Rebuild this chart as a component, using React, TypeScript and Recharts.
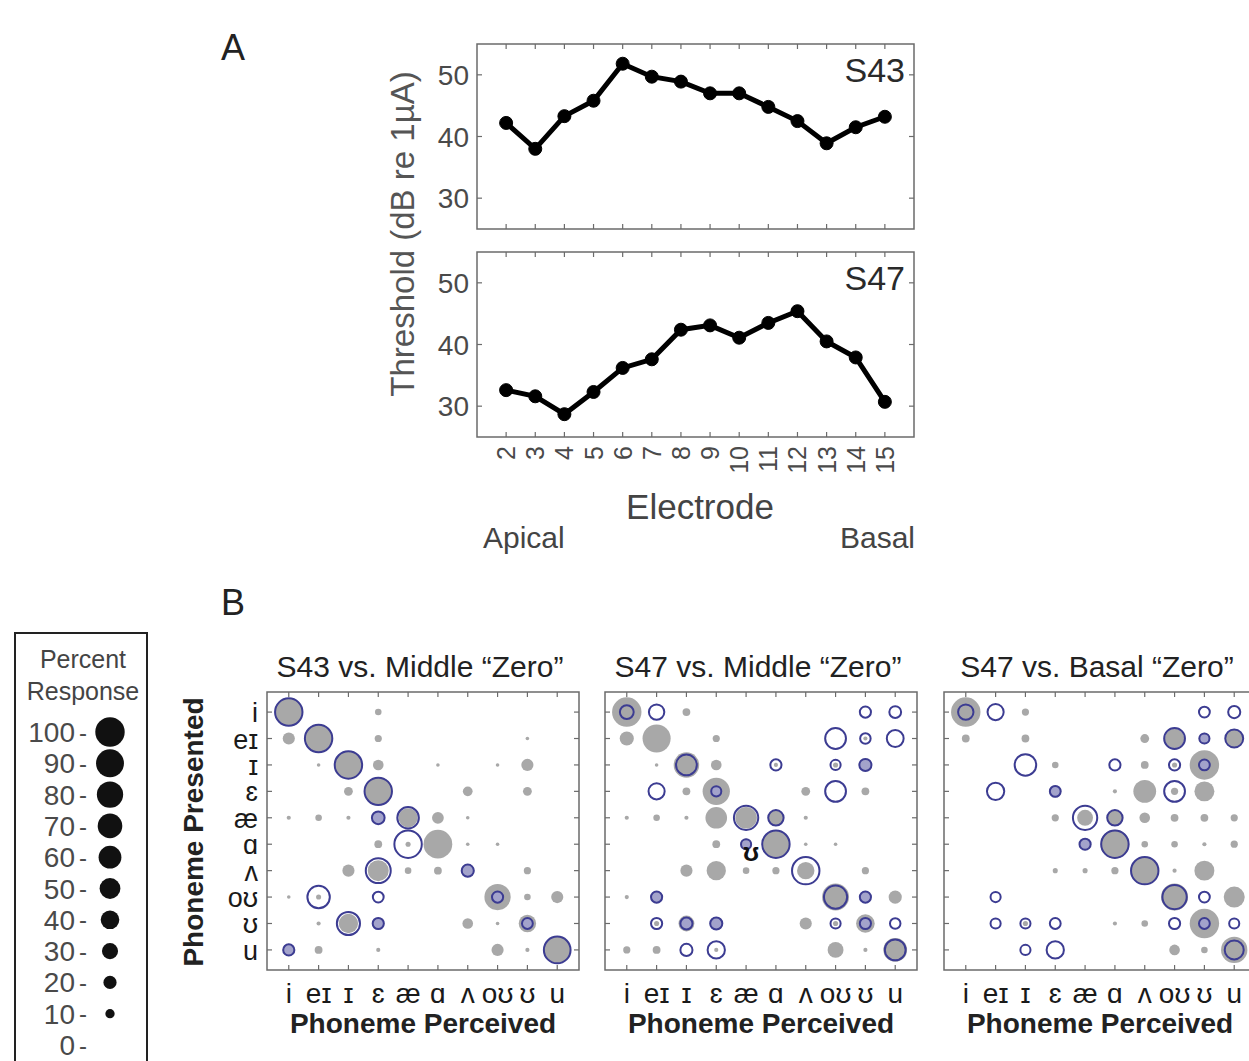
import React from "react";
import {
  LineChart,
  Line,
  ScatterChart,
  Scatter,
  XAxis,
  YAxis,
  ZAxis,
  ReferenceArea,
} from "recharts";

const FONT = '"Liberation Sans", Arial, "DejaVu Sans", sans-serif';
const AXIS_TEXT = "#4a4a4a";
const BOX = "#6b6b6b";
const GRAY_FILL = "#a8a8a8";
const RING = "#3c3c92";
const RING_TINT = "#a3a3cb";

// Panel A: thresholds per electrode
const electrodes = [2, 3, 4, 5, 6, 7, 8, 9, 10, 11, 12, 13, 14, 15];
const s43Threshold = [42.2, 38.0, 43.3, 45.8, 51.8, 49.7, 48.9, 47.0, 47.0, 44.8, 42.5, 38.9, 41.5, 43.2];
const s47Threshold = [32.6, 31.6, 28.7, 32.3, 36.2, 37.6, 42.4, 43.1, 41.1, 43.5, 45.4, 40.5, 37.9, 30.7];
const thresholdTicks = [30, 40, 50];

// Panel B: percent response, rows = phoneme presented, columns = phoneme perceived
const phonemes = ["i", "eɪ", "ɪ", "ɛ", "æ", "ɑ", "ʌ", "oʊ", "ʊ", "u"];
const matrixTicks = [1, 2, 3, 4, 5, 6, 7, 8, 9, 10];

// gray discs = full map, blue rings = "zero" map
const s43MiddleGray = [
  [91, 0, 0, 5, 0, 0, 0, 0, 0, 0],
  [17, 91, 0, 6, 0, 0, 0, 0, 1.5, 0],
  [0, 1.5, 91, 13, 0, 1.5, 0, 1.5, 17, 0],
  [0, 0, 9, 91, 0, 0, 11, 0, 9, 0],
  [2, 5, 2, 20, 43, 16, 1.5, 0, 0, 0],
  [0, 0, 0, 7, 3, 95, 1.5, 1.5, 0, 0],
  [0, 0, 17, 51, 5, 7, 20, 0, 6, 0],
  [1.5, 3, 0, 0, 0, 0, 0, 80, 5, 17],
  [0, 2, 43, 17, 0, 0, 13, 1.5, 35, 0],
  [17, 7, 0, 2, 0, 0, 0, 17, 2, 80],
];
const s43MiddleZero = [
  [100, 0, 0, 0, 0, 0, 0, 0, 0, 0],
  [0, 100, 0, 0, 0, 0, 0, 0, 0, 0],
  [0, 0, 100, 0, 0, 0, 0, 0, 0, 0],
  [0, 0, 0, 100, 0, 0, 0, 0, 0, 0],
  [0, 0, 0, 25, 64, 0, 0, 0, 0, 0],
  [0, 0, 0, 0, 100, 0, 0, 0, 0, 0],
  [0, 0, 0, 84, 0, 0, 23, 0, 0, 0],
  [0, 69, 0, 19, 0, 0, 0, 20, 0, 0],
  [0, 0, 73, 20, 0, 0, 0, 0, 19, 0],
  [20, 0, 0, 0, 0, 0, 0, 0, 0, 95],
];

const s47MiddleGray = [
  [100, 0, 7, 0, 0, 0, 0, 0, 0, 0],
  [23, 91, 0, 6, 0, 0, 0, 0, 2, 0],
  [0, 1.5, 75, 13, 0, 2, 0, 3, 20, 0],
  [0, 0, 7, 86, 0, 0, 9, 0, 7, 0],
  [2, 5, 2, 54, 54, 29, 2, 0, 0, 0],
  [0, 0, 0, 7, 15, 91, 1.5, 1.5, 0, 0],
  [0, 0, 17, 43, 5, 6, 35, 0, 6, 0],
  [2, 17, 0, 0, 0, 0, 0, 84, 17, 20],
  [0, 3, 29, 20, 0, 0, 17, 3, 40, 0],
  [6, 7, 0, 2, 0, 0, 0, 29, 2, 65],
];
const s47MiddleZero = [
  [29, 35, 0, 0, 0, 0, 0, 0, 20, 22],
  [0, 0, 0, 0, 0, 0, 0, 60, 18, 41],
  [0, 0, 60, 0, 0, 20, 0, 17, 23, 0],
  [0, 38, 0, 17, 0, 0, 0, 60, 0, 0],
  [0, 0, 0, 0, 80, 35, 0, 0, 0, 0],
  [0, 0, 0, 0, 17, 100, 0, 0, 0, 0],
  [0, 0, 0, 0, 0, 0, 100, 0, 0, 0],
  [0, 20, 0, 0, 0, 0, 0, 73, 20, 0],
  [0, 20, 23, 23, 0, 0, 0, 17, 20, 18],
  [0, 0, 23, 43, 0, 0, 0, 0, 0, 60],
];

const s47BasalGray = [
  [100, 0, 6, 0, 0, 0, 0, 0, 0, 0],
  [7, 0, 7, 0, 0, 0, 9, 43, 15, 35],
  [0, 0, 0, 5, 0, 0, 7, 3, 100, 0],
  [0, 0, 0, 17, 0, 2, 60, 6, 46, 0],
  [0, 0, 0, 6, 29, 29, 13, 7, 7, 6],
  [0, 0, 0, 0, 17, 95, 5, 5, 2, 6],
  [0, 0, 0, 3, 3, 6, 86, 2, 46, 0],
  [0, 0, 0, 0, 0, 0, 0, 84, 0, 51],
  [0, 0, 3, 0, 0, 2, 5, 0, 100, 0],
  [0, 0, 0, 0, 0, 0, 0, 13, 5, 80],
];
const s47BasalZero = [
  [35, 38, 0, 0, 0, 0, 0, 0, 19, 23],
  [0, 0, 0, 0, 0, 0, 0, 60, 17, 46],
  [0, 0, 64, 0, 0, 20, 0, 20, 19, 0],
  [0, 43, 0, 19, 0, 0, 0, 60, 0, 0],
  [0, 0, 0, 0, 80, 35, 0, 0, 0, 0],
  [0, 0, 0, 0, 20, 100, 0, 0, 0, 0],
  [0, 0, 0, 0, 0, 0, 100, 0, 0, 0],
  [0, 17, 0, 0, 0, 0, 0, 80, 19, 0],
  [0, 17, 17, 19, 0, 0, 0, 20, 19, 17],
  [0, 0, 17, 43, 0, 0, 0, 0, 0, 51],
];

const legendLevels = [100, 90, 80, 70, 60, 50, 40, 30, 20, 10, 0];

// area of a 100% disc (radius ~14.7px)
const SIZE_RANGE: [number, number] = [0, 680];

const thresholdData = electrodes.map((e, i) => ({
  electrode: e,
  s43: s43Threshold[i],
  s47: s47Threshold[i],
}));

const toPoints = (values: number[][], other: number[][]) =>
  values
    .flatMap((row, r) => row.map((p, c) => ({ x: c + 1, y: r + 1, p, other: other[r][c] })))
    .filter((d) => d.p > 0);

const radiusOf = (size: number) => Math.sqrt(Math.max(size, 0) / Math.PI);

const GrayDisc = (props: any) => (
  <circle cx={props.cx} cy={props.cy} r={radiusOf(props.size)} fill={GRAY_FILL} />
);

const BlueRing = (props: any) => {
  const { cx, cy, size, payload } = props;
  const r = Math.max(radiusOf(size) - 1, 1.5);
  // small rings sitting on a gray disc read as lavender
  const tinted = payload.other > 0 && payload.p <= 25 && payload.other >= payload.p * 0.7;
  return (
    <circle cx={cx} cy={cy} r={r} fill={tinted ? RING_TINT : "none"} stroke={RING} strokeWidth={2} />
  );
};

const LegendDisc = (props: any) => (
  <circle cx={props.cx} cy={props.cy} r={radiusOf(props.size)} fill="#111" />
);

// ---------- Panel A ----------
const TH_LEFT = 477;
const TH_W = 437;
const TH_H = 185;
const TH_YW = 80;

const ThresholdPanel = ({ top, dataKey, showLabels }: { top: number; dataKey: string; showLabels: boolean }) => {
  const xH = showLabels ? 40 : 2;

  const xTick = (props: any) => {
    const { x, y, payload } = props;
    return (
      <g>
        <line x1={x} y1={y} x2={x} y2={y - 5} stroke={BOX} strokeWidth={1.2} />
        <line x1={x} y1={y - TH_H} x2={x} y2={y - TH_H + 5} stroke={BOX} strokeWidth={1.2} />
        {showLabels && (
          <text
            x={x}
            y={y + 9}
            transform={`rotate(-90, ${x}, ${y + 9})`}
            textAnchor="end"
            dominantBaseline="central"
            fontSize={25}
            fill={AXIS_TEXT}
            fontFamily={FONT}
          >
            {payload.value}
          </text>
        )}
      </g>
    );
  };

  const yTick = (props: any) => {
    const { x, y, payload } = props;
    return (
      <g>
        <line x1={x} y1={y} x2={x + 5} y2={y} stroke={BOX} strokeWidth={1.2} />
        <line x1={x + TH_W} y1={y} x2={x + TH_W - 5} y2={y} stroke={BOX} strokeWidth={1.2} />
        <text x={x - 8} y={y} dy="0.36em" textAnchor="end" fontSize={28} fill={AXIS_TEXT} fontFamily={FONT}>
          {payload.value}
        </text>
      </g>
    );
  };

  return (
    <div style={{ position: "absolute", left: TH_LEFT - TH_YW, top: top - 2 }}>
      <LineChart
        width={TH_YW + TH_W + 2}
        height={2 + TH_H + xH}
        data={thresholdData}
        margin={{ top: 2, right: 2, bottom: 0, left: 0 }}
      >
        <XAxis
          type="number"
          dataKey="electrode"
          domain={[1, 16]}
          ticks={electrodes}
          interval={0}
          height={xH}
          tickSize={0}
          tickMargin={0}
          axisLine={false}
          tick={xTick}
        />
        <YAxis
          type="number"
          domain={[25, 55]}
          ticks={thresholdTicks}
          width={TH_YW}
          tickSize={0}
          tickMargin={0}
          axisLine={false}
          tick={yTick}
        />
        <ReferenceArea x1={1} x2={16} y1={25} y2={55} fill="none" stroke={BOX} strokeWidth={1.5} />
        <Line
          dataKey={dataKey}
          stroke="#000"
          strokeWidth={5}
          dot={{ r: 6.5, fill: "#000", stroke: "#000", strokeWidth: 1 }}
          isAnimationActive={false}
        />
      </LineChart>
    </div>
  );
};

// ---------- Panel B ----------
const MX_TOP = 692;
const MX_W = 312;
const MX_H = 278;
const MX_XH = 45;
const X_DOMAIN: [number, number] = [0.27, 10.73];
const Y_DOMAIN: [number, number] = [0.24, 10.76];

const MatrixPanel = ({
  left,
  gray,
  zero,
  showRowLabels,
}: {
  left: number;
  gray: number[][];
  zero: number[][];
  showRowLabels: boolean;
}) => {
  const yW = showRowLabels ? 70 : 10;
  const grayPoints = toPoints(gray, zero);
  const ringPoints = toPoints(zero, gray);

  const xTick = (props: any) => {
    const { x, y, payload } = props;
    return (
      <g>
        <line x1={x} y1={y} x2={x} y2={y - 5} stroke={BOX} strokeWidth={1.2} />
        <line x1={x} y1={y - MX_H} x2={x} y2={y - MX_H + 5} stroke={BOX} strokeWidth={1.2} />
        <text x={x} y={y + 33} textAnchor="middle" fontSize={28} fill="#1a1a1a" fontFamily={FONT}>
          {phonemes[payload.value - 1]}
        </text>
      </g>
    );
  };

  const yTick = (props: any) => {
    const { x, y, payload } = props;
    return (
      <g>
        <line x1={x} y1={y} x2={x + 5} y2={y} stroke={BOX} strokeWidth={1.2} />
        <line x1={x + MX_W} y1={y} x2={x + MX_W - 5} y2={y} stroke={BOX} strokeWidth={1.2} />
        {showRowLabels && (
          <text x={x - 9} y={y + 10} textAnchor="end" fontSize={27} fill="#1a1a1a" fontFamily={FONT}>
            {phonemes[payload.value - 1]}
          </text>
        )}
      </g>
    );
  };

  return (
    <div style={{ position: "absolute", left: left - yW, top: MX_TOP - 2 }}>
      <ScatterChart
        width={yW + MX_W + 2}
        height={2 + MX_H + MX_XH}
        margin={{ top: 2, right: 2, bottom: 0, left: 0 }}
      >
        <XAxis
          type="number"
          dataKey="x"
          domain={X_DOMAIN}
          ticks={matrixTicks}
          interval={0}
          height={MX_XH}
          tickSize={0}
          tickMargin={0}
          axisLine={false}
          tick={xTick}
        />
        <YAxis
          type="number"
          dataKey="y"
          domain={Y_DOMAIN}
          reversed
          ticks={matrixTicks}
          interval={0}
          width={yW}
          tickSize={0}
          tickMargin={0}
          axisLine={false}
          tick={yTick}
        />
        <ZAxis type="number" dataKey="p" domain={[0, 100]} range={SIZE_RANGE} />
        <ReferenceArea
          x1={X_DOMAIN[0]}
          x2={X_DOMAIN[1]}
          y1={Y_DOMAIN[0]}
          y2={Y_DOMAIN[1]}
          fill="none"
          stroke={BOX}
          strokeWidth={1.5}
        />
        <Scatter data={grayPoints} shape={GrayDisc} isAnimationActive={false} />
        <Scatter data={ringPoints} shape={BlueRing} isAnimationActive={false} />
      </ScatterChart>
    </div>
  );
};

// size key: percent levels drawn as black discs
const LEG_TOP = 732;
const LEG_H = 313;

const SizeLegend = () => {
  const points = legendLevels.filter((p) => p > 0).map((p) => ({ x: 0.5, y: p, p }));
  const tick = (props: any) => {
    const { x, y, payload } = props;
    return (
      <g fontFamily={FONT} fill={AXIS_TEXT}>
        <text x={x - 15} y={y} dy="0.36em" textAnchor="end" fontSize={28}>
          {payload.value}
        </text>
        <text x={x - 11} y={y} dy="0.36em" fontSize={24}>
          -
        </text>
      </g>
    );
  };
  return (
    <div style={{ position: "absolute", left: 0, top: LEG_TOP - 20 }}>
      <ScatterChart width={150} height={LEG_H + 40} margin={{ top: 20, right: 20, bottom: 20, left: 0 }}>
        <XAxis type="number" dataKey="x" domain={[0, 1]} hide />
        <YAxis
          type="number"
          dataKey="y"
          domain={[0, 100]}
          ticks={legendLevels}
          interval={0}
          width={90}
          tickSize={0}
          tickMargin={0}
          axisLine={false}
          tick={tick}
        />
        <ZAxis type="number" dataKey="p" domain={[0, 100]} range={SIZE_RANGE} />
        <Scatter data={points} shape={LegendDisc} isAnimationActive={false} />
      </ScatterChart>
    </div>
  );
};

const matrixPanels = [
  { left: 267, title: "S43 vs. Middle “Zero”", gray: s43MiddleGray, zero: s43MiddleZero },
  { left: 605, title: "S47 vs. Middle “Zero”", gray: s47MiddleGray, zero: s47MiddleZero },
  { left: 944, title: "S47 vs. Basal “Zero”", gray: s47BasalGray, zero: s47BasalZero },
];

export default function App() {
  return (
    <div
      style={{
        position: "absolute",
        left: 0,
        top: 0,
        width: 1249,
        height: 1061,
        overflow: "hidden",
        background: "#fff",
        fontFamily: FONT,
      }}
    >
      <ThresholdPanel top={44} dataKey="s43" showLabels={false} />
      <ThresholdPanel top={252} dataKey="s47" showLabels />

      {matrixPanels.map((m, i) => (
        <MatrixPanel key={m.title} left={m.left} gray={m.gray} zero={m.zero} showRowLabels={i === 0} />
      ))}

      <div
        style={{
          position: "absolute",
          left: 14,
          top: 632,
          width: 134,
          height: 600,
          border: "2px solid #222",
          boxSizing: "border-box",
        }}
      />
      <SizeLegend />

      <svg
        width={1249}
        height={1061}
        style={{ position: "absolute", left: 0, top: 0, pointerEvents: "none" }}
        fontFamily={FONT}
      >
        <text x={221} y={60} fontSize={36} fill="#222">A</text>
        <text x={221} y={615} fontSize={36} fill="#222">B</text>

        <text
          x={414}
          y={234}
          transform="rotate(-90, 414, 234)"
          textAnchor="middle"
          fontSize={33}
          fill="#555"
        >
          Threshold (dB re 1µA)
        </text>
        <text x={905} y={82} textAnchor="end" fontSize={34} fill="#2a2a2a">S43</text>
        <text x={905} y={290} textAnchor="end" fontSize={34} fill="#2a2a2a">S47</text>
        <text x={700} y={519} textAnchor="middle" fontSize={35} fill="#444">Electrode</text>
        <text x={483} y={548} fontSize={30} fill="#444">Apical</text>
        <text x={915} y={548} textAnchor="end" fontSize={30} fill="#444">Basal</text>

        <text x={83} y={668} textAnchor="middle" fontSize={25} fill="#444">Percent</text>
        <text x={83} y={700} textAnchor="middle" fontSize={25} fill="#444">Response</text>

        {matrixPanels.map((m) => (
          <g key={m.title}>
            <text x={m.left + MX_W / 2 - 3} y={677} textAnchor="middle" fontSize={30} fill="#222">
              {m.title}
            </text>
            <text
              x={m.left + MX_W / 2}
              y={1033}
              textAnchor="middle"
              fontSize={28}
              fontWeight="bold"
              fill="#222"
            >
              Phoneme Perceived
            </text>
          </g>
        ))}
        <text
          x={203}
          y={832}
          transform="rotate(-90, 203, 832)"
          textAnchor="middle"
          fontSize={28}
          fontWeight="bold"
          fill="#222"
        >
          Phoneme Presented
        </text>
        <text x={751} y={861} textAnchor="middle" fontSize={26} fontWeight="bold" fill="#111">ʊ</text>
      </svg>
    </div>
  );
}
